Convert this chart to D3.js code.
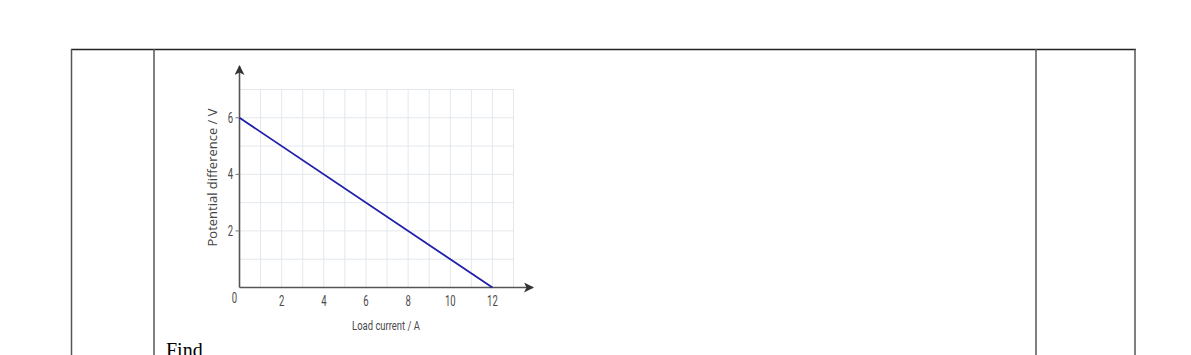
<!DOCTYPE html>
<html>
<head>
<meta charset="utf-8">
<script src="https://cdn.jsdelivr.net/npm/d3@7"></script>
<style>
  body { margin: 0; background: #fff; }
  svg { display: block; }
</style>
</head>
<body>
<div id="vis_canvas"></div>
<script>
// data
var current = [0, 12];          // load current / A
var voltage = [6, 0];           // potential difference / V
var xTicks = [2, 4, 6, 8, 10, 12];
var yTicks = [2, 4, 6];
var xLabel = "Load current / A";
var yLabel = "Potential difference / V";

var W = 1191, H = 355;
var svg = d3.select("#vis_canvas").append("svg")
    .attr("width", W).attr("height", H);

// table borders round the question
var tbl = svg.append("g").attr("fill", "none");
tbl.append("line").attr("x1", 71).attr("x2", 1136).attr("y1", 49.5).attr("y2", 49.5)
   .attr("stroke", "#222").attr("stroke-width", 1.5);
[71.5, 154, 1036, 1135].forEach(function(x) {
  tbl.append("line").attr("x1", x).attr("x2", x).attr("y1", 49).attr("y2", H)
     .attr("stroke", "#555").attr("stroke-width", 1.5);
});

// scales
var x = d3.scaleLinear().domain([0, 13]).range([239.5, 513.5]);
var y = d3.scaleLinear().domain([0, 7]).range([287.5, 89.5]);

var g = svg.append("g");

// grid
g.selectAll(".vgrid").data(d3.range(1, 14)).enter().append("line")
  .attr("class", "vgrid")
  .attr("x1", function(d) { return x(d); }).attr("x2", function(d) { return x(d); })
  .attr("y1", y(0)).attr("y2", y(7))
  .attr("stroke", "#e3e7ec").attr("stroke-width", 1);
g.selectAll(".hgrid").data(d3.range(1, 8)).enter().append("line")
  .attr("class", "hgrid")
  .attr("x1", x(0)).attr("x2", x(13))
  .attr("y1", function(d) { return y(d); }).attr("y2", function(d) { return y(d); })
  .attr("stroke", "#e3e7ec").attr("stroke-width", 1);

// axes with arrows
svg.append("defs").append("marker")
  .attr("id", "arr").attr("viewBox", "0 0 10 10").attr("refX", 9).attr("refY", 5)
  .attr("markerWidth", 10).attr("markerHeight", 10).attr("markerUnits", "userSpaceOnUse")
  .attr("orient", "auto")
  .append("path").attr("d", "M0,0 L10,5 L0,10 L2.5,5 Z").attr("fill", "#333");

g.append("line").attr("x1", x(0)).attr("x2", 533).attr("y1", y(0)).attr("y2", y(0))
  .attr("stroke", "#555").attr("stroke-width", 1.6).attr("marker-end", "url(#arr)");
g.append("line").attr("x1", x(0)).attr("x2", x(0)).attr("y1", y(0)).attr("y2", 66)
  .attr("stroke", "#555").attr("stroke-width", 1.6).attr("marker-end", "url(#arr)");

// condensed looking labels: squeeze Roboto horizontally
function narrowText(parent, px, py, str, anchor, size, sx) {
  parent.append("text")
    .attr("transform", "translate(" + px + "," + py + ") scale(" + sx + ",1)")
    .attr("text-anchor", anchor)
    .attr("font-family", "Roboto, sans-serif")
    .attr("font-size", size).attr("fill", "#4a4a4a")
    .text(str);
}

// x ticks
xTicks.forEach(function(d) { narrowText(g, x(d), 306, d, "middle", 14, 0.68); });
narrowText(g, 234.5, 303, "0", "middle", 14, 0.68);

// y ticks
g.selectAll(".yt").data(yTicks).enter().append("line")
  .attr("x1", x(0) - 4).attr("x2", x(0))
  .attr("y1", function(d) { return y(d); }).attr("y2", function(d) { return y(d); })
  .attr("stroke", "#777").attr("stroke-width", 1);
yTicks.forEach(function(d) { narrowText(g, 233, y(d) + 5, d, "end", 14, 0.68); });

// axis labels
narrowText(g, 386, 329.5, xLabel, "middle", 13.5, 0.7);
g.append("text").attr("transform", "translate(216.5,177.5) rotate(-90)")
  .attr("text-anchor", "middle").attr("font-family", "'Open Sans', sans-serif")
  .attr("font-size", 13).attr("fill", "#444").text(yLabel);

// the line
var line = d3.line().x(function(d, i) { return x(current[i]); }).y(function(d) { return y(d); });
g.append("path").datum(voltage).attr("d", line)
  .attr("fill", "none").attr("stroke", "#1f1fa8").attr("stroke-width", 1.8);

// question text
svg.append("text").attr("x", 166).attr("y", 357)
  .attr("font-family", "'Liberation Serif', 'Times New Roman', serif").attr("font-size", 20)
  .attr("fill", "#000").text("Find");
</script>
</body>
</html>
